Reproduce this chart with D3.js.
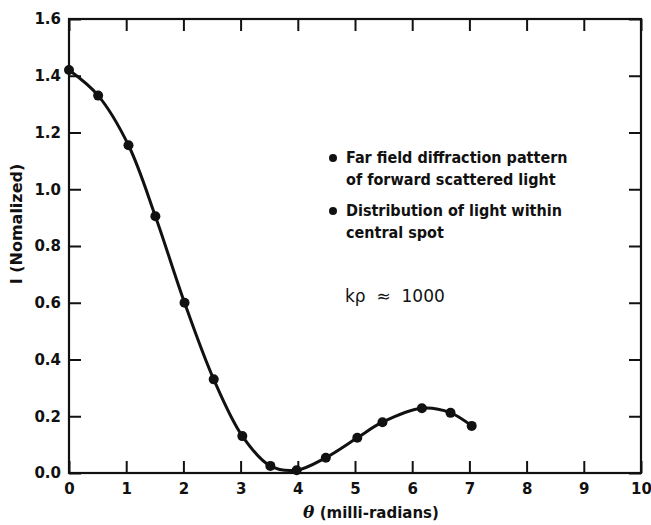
<!DOCTYPE html>
<html>
<head>
<meta charset="utf-8">
<script src="https://cdn.jsdelivr.net/npm/d3@7"></script>
<style>
  body { margin: 0; background: #fff; }
  text { font-family: "DejaVu Sans", sans-serif; fill: #111; }
</style>
</head>
<body>
<svg id="chart" width="651" height="525"></svg>
<script>
// measured points (theta in milli-radians, normalized intensity)
var theta = [0, 0.51, 1.04, 1.51, 2.02, 2.53, 3.03, 3.52, 3.98, 4.49, 5.04, 5.48, 6.17, 6.67, 7.04];
var intensity = [1.42, 1.33, 1.155, 0.905, 0.60, 0.33, 0.13, 0.025, 0.01, 0.054, 0.124, 0.179, 0.228, 0.212, 0.166];
var xTicks = [0, 1, 2, 3, 4, 5, 6, 7, 8, 9, 10];
var yTicks = [0, 0.2, 0.4, 0.6, 0.8, 1.0, 1.2, 1.4, 1.6];
var legendLines = [
  ['Far field diffraction pattern', 'of forward scattered light'],
  ['Distribution of light within', 'central spot']
];

var LEFT = 69, RIGHT = 641, TOP = 19, BOTTOM = 473,
  TICK = 12;

var svg = d3.select('#chart');

var x = d3.scaleLinear().domain([0, 10]).range([LEFT, RIGHT]);
var y = d3.scaleLinear().domain([0, 1.6]).range([BOTTOM, TOP]);

var data = theta.map(function(t, i) { return { t: t, v: intensity[i] }; });

// frame
svg.append('rect')
  .attr('x', LEFT).attr('y', TOP)
  .attr('width', RIGHT - LEFT).attr('height', BOTTOM - TOP)
  .attr('fill', 'none')
  .attr('stroke', '#111')
  .attr('stroke-width', 2.2);

// inward ticks on all four sides
var bottomAxis = d3.axisBottom(x).tickValues(xTicks).tickSize(-TICK).tickFormat(d3.format('d')).tickPadding(10);
var topAxis = d3.axisTop(x).tickValues(xTicks).tickSize(-TICK).tickFormat('');
var leftAxis = d3.axisLeft(y).tickValues(yTicks).tickSize(-TICK).tickFormat(d3.format('.1f')).tickPadding(8);
var rightAxis = d3.axisRight(y).tickValues(yTicks).tickSize(-TICK).tickFormat('');

function styleAxis(g) {
  g.select('.domain').remove();
  g.selectAll('.tick line').attr('stroke', '#111').attr('stroke-width', 2);
  g.selectAll('.tick text')
    .style('font-family', '"DejaVu Sans", sans-serif')
    .style('font-size', '15px')
    .style('font-weight', 'bold')
    .attr('fill', '#111');
}

svg.append('g').attr('transform', 'translate(0,' + BOTTOM + ')').call(bottomAxis).call(styleAxis);
svg.append('g').attr('transform', 'translate(0,' + TOP + ')').call(topAxis).call(styleAxis);
svg.append('g').attr('transform', 'translate(' + LEFT + ',0)').call(leftAxis).call(styleAxis);
svg.append('g').attr('transform', 'translate(' + RIGHT + ',0)').call(rightAxis).call(styleAxis);

// axis titles
var xTitle = svg.append('text')
  .attr('x', 371)
  .attr('y', 518)
  .style('text-anchor', 'middle')
  .style('font-size', '15px')
  .style('font-weight', 'bold');
xTitle.append('tspan').style('font-style', 'italic').style('font-family', '"DejaVu Serif", serif').style('font-size', '17px').text('θ');
xTitle.append('tspan').text(' (milli-radians)');

svg.append('text')
  .attr('transform', 'translate(22,224) rotate(-90)')
  .style('text-anchor', 'middle')
  .style('font-size', '16px')
  .style('font-weight', 'bold')
  .text('I (Nomalized)');

// curve through points
var line = d3.line()
  .x(function(d) { return x(d.t); })
  .y(function(d) { return Math.min(y(d.v), BOTTOM); })
  .curve(d3.curveCatmullRom.alpha(0.5));

svg.append('path')
  .datum(data)
  .attr('d', line)
  .attr('fill', 'none')
  .attr('stroke', '#111')
  .attr('stroke-width', 3);

svg.append('g')
  .selectAll('circle')
  .data(data)
  .enter()
  .append('circle')
  .attr('cx', function(d) { return x(d.t); })
  .attr('cy', function(d) { return y(d.v); })
  .attr('r', 5)
  .attr('fill', '#111');

// legend notes
var legend = svg.append('g');
legendLines.forEach(function(lines, i) {
  var by = 163 + i * 53;
  legend.append('circle')
    .attr('cx', 333)
    .attr('cy', by - 5)
    .attr('r', 4)
    .attr('fill', '#111');
  lines.forEach(function(s, j) {
    legend.append('text')
      .attr('x', 346)
      .attr('y', by + j * 22)
      .style('font-family', '"DejaVu Sans Condensed", "DejaVu Sans", sans-serif')
      .style('font-size', '16px')
      .style('font-weight', 'bold')
      .text(s);
  });
});

svg.append('text')
  .attr('x', 345)
  .attr('y', 302)
  .style('font-size', '17px')
  .style('white-space', 'pre')
  .text('kρ  ≈  1000');
</script>
</body>
</html>
